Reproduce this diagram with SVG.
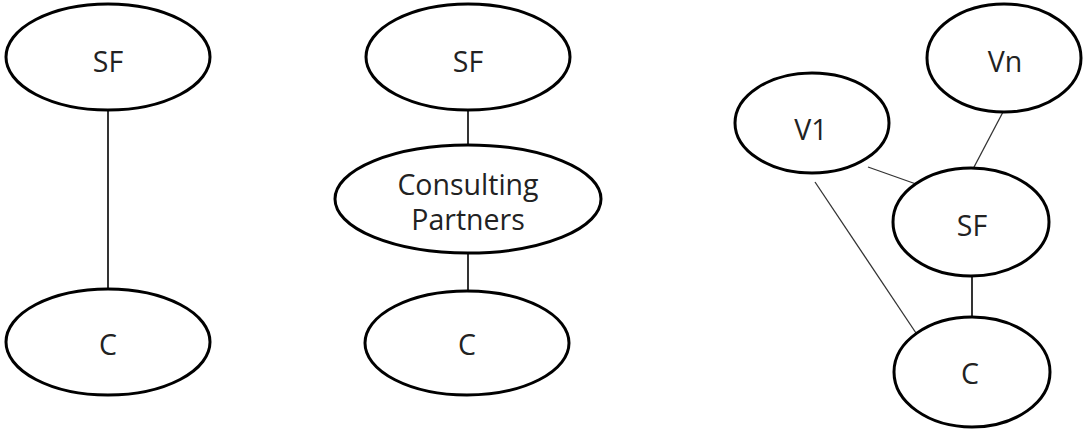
<svg xmlns="http://www.w3.org/2000/svg" width="1086" height="429" viewBox="0 0 1086 429">
<style>
.node ellipse{fill:#fff;stroke:#000;stroke-width:3}
.node text{font-family:"Open Sans","Liberation Sans",sans-serif;font-size:28.5px;fill:#222;text-anchor:middle}
.edges line{stroke:#000;stroke-width:1.6}
.edges .thin{stroke:#333;stroke-width:1.3}
</style>
<rect width="1086" height="429" fill="#fff"/>
<g class="edges">
<line x1="108" y1="110" x2="108" y2="290"/>
<line x1="468" y1="109" x2="468" y2="146"/>
<line x1="468" y1="252" x2="468" y2="292"/>
<line class="thin" x1="1003" y1="112" x2="973" y2="169"/>
<line class="thin" x1="868" y1="167" x2="916" y2="184"/>
<line class="thin" x1="815" y1="182" x2="916" y2="333"/>
<line x1="972" y1="275" x2="972" y2="318"/>
</g>
<g id="sf1" class="node"><ellipse cx="108" cy="57" rx="102" ry="53"/><text x="108" y="72">SF</text></g>
<g id="c1" class="node"><ellipse cx="108" cy="342" rx="102" ry="53"/><text x="108" y="355">C</text></g>
<g id="sf2" class="node"><ellipse cx="468" cy="57" rx="102" ry="53"/><text x="468" y="72">SF</text></g>
<g id="cp" class="node"><ellipse cx="468" cy="199" rx="133" ry="54"/><text x="468" y="195">Consulting</text><text x="468" y="230">Partners</text></g>
<g id="c2" class="node"><ellipse cx="467" cy="343" rx="102" ry="52"/><text x="467" y="355">C</text></g>
<g id="vn" class="node"><ellipse cx="1004" cy="58" rx="77" ry="54"/><text x="1005" y="72">Vn</text></g>
<g id="v1" class="node"><ellipse cx="812" cy="123" rx="77" ry="50"/><text x="811" y="140">V1</text></g>
<g id="sf3" class="node"><ellipse cx="971" cy="222" rx="78" ry="54"/><text x="972" y="236">SF</text></g>
<g id="c3" class="node"><ellipse cx="972" cy="372" rx="78" ry="55"/><text x="970" y="384">C</text></g>
</svg>
